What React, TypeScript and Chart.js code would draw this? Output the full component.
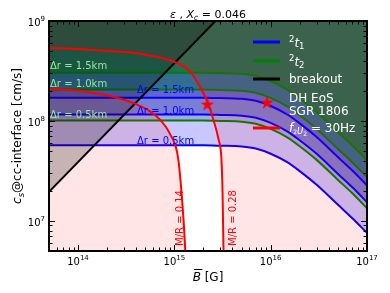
import React, { useEffect, useRef } from "react";
import { Chart, registerables } from "chart.js";
Chart.register(...registerables);

// ---- data ----
const xMin = 5e13;
const xMax = 1e17;
const yMin = 5e6;
const yMax = 1e9;

const gridB = [5e13, 1e14, 2e14, 5e14, 1e15, 2e15, 3e15, 5e15, 7e15, 1e16, 1.5e16, 2e16, 3e16, 5e16, 7e16, 1e17];
// 2t1 (blue)
const t1_05 = [5.7e7, 5.7e7, 5.7e7, 5.7e7, 5.7e7, 5.7e7, 5.65e7, 5.55e7, 5.3e7, 4.7e7, 3.85e7, 3.15e7, 2.3e7, 1.45e7, 1.07e7, 7.6e6];
const t1_10 = [1.16e8, 1.16e8, 1.16e8, 1.16e8, 1.16e8, 1.16e8, 1.15e8, 1.13e8, 1.079e8, 9.57e7, 7.83e7, 6.41e7, 4.69e7, 2.95e7, 2.18e7, 1.54e7];
const t1_15 = [1.71e8, 1.71e8, 1.71e8, 1.71e8, 1.71e8, 1.71e8, 1.695e8, 1.666e8, 1.59e8, 1.41e8, 1.154e8, 9.46e7, 6.91e7, 4.34e7, 3.21e7, 2.27e7];
// 2t2 (green)
const t2_05 = [1.01e8, 1.01e8, 1.01e8, 1.01e8, 1.01e8, 1.01e8, 1.0e8, 9.84e7, 9.39e7, 8.33e7, 6.82e7, 5.59e7, 4.08e7, 2.57e7, 1.9e7, 1.34e7];
const t2_10 = [2.06e8, 2.06e8, 2.06e8, 2.06e8, 2.06e8, 2.06e8, 2.04e8, 2.006e8, 1.916e8, 1.70e8, 1.39e8, 1.139e8, 8.32e7, 5.23e7, 3.87e7, 2.74e7];
const t2_15 = [3.04e8, 3.04e8, 3.04e8, 3.04e8, 3.04e8, 3.04e8, 3.01e8, 2.96e8, 2.83e8, 2.51e8, 2.05e8, 1.68e8, 1.228e8, 7.72e7, 5.72e7, 4.04e7];
// breakout
const breakoutB = [5e13, 2.67e15];
const breakoutC = [1.95e7, 1e9];
// f = 30 Hz, M/R = 0.28
const redHighB = [5e13, 1e14, 2.15e14, 4.4e14, 7.1e14, 1e15, 1.47e15, 1.87e15, 2.25e15, 2.54e15, 2.87e15, 3.08e15, 3.16e15, 3.24e15];
const redHighC = [5.38e8, 5.25e8, 5.0e8, 4.7e8, 4.3e8, 3.9e8, 3.1e8, 2.15e8, 1.48e8, 1.03e8, 6.6e7, 4.2e7, 2.08e7, 5e6];
// f = 30 Hz, M/R = 0.14
const redLowB = [5e13, 1e14, 2.15e14, 3.5e14, 5.5e14, 7.1e14, 9.1e14, 1.1e15, 1.25e15, 1.3e15];
const redLowC = [2.1e8, 2.0e8, 1.78e8, 1.55e8, 1.26e8, 1.03e8, 7.3e7, 4.1e7, 9.8e6, 5e6];
// DH EoS SGR 1806
const starB = [2.2e15];
const starC = [1.45e8];

const xMajor = [1e14, 1e15, 1e16, 1e17];
const xMajorLabels = ["14", "15", "16", "17"];
const yMajor = [1e7, 1e8, 1e9];
const yMajorLabels = ["7", "8", "9"];

const drLabels = ["Δr = 0.5km", "Δr = 1.0km", "Δr = 1.5km"];

// band colours
const colA = "rgb(200,200,255)";
const colB = "rgb(165,170,232)";
const colC = "rgb(123,127,212)";
const colD = "rgb(95,102,205)";
const colE = "rgb(50,110,145)";
const colF = "rgb(36,110,86)";

const FONT = '"DejaVu Sans"';

type Run = { t: string; size: number; italic?: boolean; dy?: number };
const fontOf = (r: Run) => `${r.italic ? "italic " : ""}${r.size}px ${FONT}`;

function drawRuns(ctx: CanvasRenderingContext2D, runs: Run[], x: number, y: number, align: "left" | "center" | "right") {
  let total = 0;
  const ws = runs.map((r) => {
    ctx.font = fontOf(r);
    const w = ctx.measureText(r.t).width;
    total += w;
    return w;
  });
  let cx = align === "left" ? x : align === "center" ? x - total / 2 : x - total;
  const start = cx;
  runs.forEach((r, i) => {
    ctx.font = fontOf(r);
    ctx.fillText(r.t, cx, y + (r.dy || 0));
    cx += ws[i];
  });
  return { start, total };
}

function makeStar(r: number, color: string) {
  const c = document.createElement("canvas");
  const size = Math.ceil(r * 2 + 2);
  c.width = size;
  c.height = size;
  const ctx = c.getContext("2d")!;
  ctx.fillStyle = color;
  ctx.beginPath();
  for (let i = 0; i < 10; i++) {
    const ang = -Math.PI / 2 + (i * Math.PI) / 5;
    const rad = i % 2 === 0 ? r : r * 0.4;
    ctx.lineTo(size / 2 + rad * Math.cos(ang), size / 2 + rad * Math.sin(ang));
  }
  ctx.closePath();
  ctx.fill();
  return c;
}

export default function App() {
  const ref = useRef<HTMLCanvasElement>(null);
  useEffect(() => {
    document.body.style.margin = "0";
    const canvas = ref.current!;
    const star = makeStar(7, "#ff0000");
    const pts = (xs: number[], ys: number[]) => xs.map((x, i) => ({ x, y: ys[i] }));
    const base = { pointRadius: 0, borderWidth: 2, cubicInterpolationMode: "monotone" as const };

    const overlay = {
      id: "overlay",
      afterDraw(chart: any) {
        const ctx: CanvasRenderingContext2D = chart.ctx;
        const xs = chart.scales.x;
        const ys = chart.scales.y;
        const a = chart.chartArea;
        ctx.save();
        ctx.textAlign = "left";
        ctx.textBaseline = "alphabetic";

        // in-plot labels
        ctx.fillStyle = "#90ee90";
        const gY = [117.5, 86.5, 68.5];
        drLabels.forEach((t, i) => drawRuns(ctx, [{ t, size: 10 }], a.left + 1, gY[i], "left"));
        ctx.fillStyle = "#0000ff";
        const bY = [143.5, 113.5, 92.5];
        drLabels.forEach((t, i) => drawRuns(ctx, [{ t, size: 10 }], 137, bY[i], "left"));

        // rotated M/R labels
        ctx.fillStyle = "#ff0000";
        [["M/R = 0.14", 183], ["M/R = 0.28", 235.5]].forEach(([t, bx]) => {
          ctx.save();
          ctx.translate(bx as number, 218);
          ctx.rotate(-Math.PI / 2);
          drawRuns(ctx, [{ t: t as string, size: 10 }], 0, 0, "center");
          ctx.restore();
        });

        // frame
        ctx.strokeStyle = "#000";
        ctx.lineWidth = 2;
        ctx.strokeRect(a.left, a.top, a.right - a.left, a.bottom - a.top);

        // ticks
        ctx.lineWidth = 1;
        const tickX = (v: number, len: number) => {
          const p = Math.round(xs.getPixelForValue(v)) + 0.5;
          ctx.beginPath();
          ctx.moveTo(p, a.bottom);
          ctx.lineTo(p, a.bottom - len);
          ctx.moveTo(p, a.top);
          ctx.lineTo(p, a.top + len);
          ctx.stroke();
        };
        const tickY = (v: number, len: number) => {
          const p = Math.round(ys.getPixelForValue(v)) + 0.5;
          ctx.beginPath();
          ctx.moveTo(a.left, p);
          ctx.lineTo(a.left + len, p);
          ctx.moveTo(a.right, p);
          ctx.lineTo(a.right - len, p);
          ctx.stroke();
        };
        for (let n = 13; n <= 16; n++)
          for (let k = 2; k <= 9; k++) {
            const v = k * Math.pow(10, n);
            if (v > xMin && v < xMax) tickX(v, 3.5);
          }
        for (let n = 6; n <= 8; n++)
          for (let k = 2; k <= 9; k++) {
            const v = k * Math.pow(10, n);
            if (v > yMin && v < yMax) tickY(v, 3.5);
          }
        xMajor.forEach((v) => tickX(v, 6));
        yMajor.forEach((v) => tickY(v, 6));

        // tick labels
        ctx.fillStyle = "#000";
        xMajor.forEach((v, i) => {
          const p = xs.getPixelForValue(v);
          drawRuns(ctx, [{ t: "10", size: 10 }, { t: xMajorLabels[i], size: 7, dy: -5 }], p, 264.5, "center");
        });
        yMajor.forEach((v, i) => {
          const p = ys.getPixelForValue(v);
          drawRuns(ctx, [{ t: "10", size: 10 }, { t: yMajorLabels[i], size: 7, dy: -5 }], 45, p + 5, "right");
        });

        // x axis label
        const cxl = (a.left + a.right) / 2;
        const r = drawRuns(ctx, [{ t: "B", size: 12, italic: true }, { t: " [G]", size: 12 }], cxl, 281, "center");
        ctx.font = `italic 12px ${FONT}`;
        const bw = ctx.measureText("B").width;
        ctx.beginPath();
        ctx.lineWidth = 1;
        ctx.moveTo(r.start + 1.5, 269.5);
        ctx.lineTo(r.start + bw + 1.5, 269.5);
        ctx.stroke();

        // y axis label
        ctx.save();
        ctx.translate(21, (a.top + a.bottom) / 2);
        ctx.rotate(-Math.PI / 2);
        drawRuns(ctx, [
          { t: "c", size: 12, italic: true },
          { t: "s", size: 8.5, italic: true, dy: 2.5 },
          { t: "@cc-interface [cm/s]", size: 12 },
        ], 0, 0, "center");
        ctx.restore();

        // title
        drawRuns(ctx, [
          { t: "ε", size: 11, italic: true },
          { t: " , ", size: 11 },
          { t: "X", size: 11, italic: true },
          { t: "c", size: 7.5, italic: true, dy: 2 },
          { t: " = 0.046", size: 11 },
        ], cxl, 17.5, "center");

        // legend
        const lx0 = 253, lx1 = 280, tx = 289;
        const legLine = (y: number, col: string) => {
          ctx.strokeStyle = col;
          ctx.lineWidth = 3;
          ctx.beginPath();
          ctx.moveTo(lx0, y);
          ctx.lineTo(lx1, y);
          ctx.stroke();
        };
        legLine(42, "#0000ff");
        legLine(61, "#008000");
        legLine(79, "#000000");
        legLine(128, "#ff0000");
        ctx.drawImage(star, 267 - star.width / 2, 103 - star.height / 2);
        ctx.fillStyle = "#ffffff";
        drawRuns(ctx, [
          { t: "2", size: 8.5, dy: -5 },
          { t: "t", size: 12, italic: true },
          { t: "1", size: 8.5, dy: 2.5 },
        ], tx, 46.5, "left");
        drawRuns(ctx, [
          { t: "2", size: 8.5, dy: -5 },
          { t: "t", size: 12, italic: true },
          { t: "2", size: 8.5, dy: 2.5 },
        ], tx, 65.5, "left");
        drawRuns(ctx, [{ t: "breakout", size: 12 }], tx, 83.3, "left");
        drawRuns(ctx, [{ t: "DH EoS", size: 12 }], tx, 101.7, "left");
        drawRuns(ctx, [{ t: "SGR 1806", size: 12 }], tx, 115, "left");
        drawRuns(ctx, [
          { t: "f", size: 12, italic: true },
          { t: "2", size: 6, dy: 2 },
          { t: "U", size: 8.5, italic: true, dy: 2.5 },
          { t: "2", size: 6, dy: 4 },
          { t: " = 30Hz", size: 12 },
        ], tx, 131.7, "left");

        ctx.restore();
      },
    };

    const chart = new Chart(canvas, {
      type: "line",
      data: {
        datasets: [
          { ...base, data: pts(starB, starC), showLine: false, pointStyle: star as any, pointRadius: 7, fill: false, borderColor: "#ff0000", backgroundColor: "#ff0000" },
          { ...base, data: pts(redHighB, redHighC), borderColor: "#ff0000", fill: false },
          { ...base, data: pts(redLowB, redLowC), borderColor: "#ff0000", fill: false },
          { ...base, data: pts(breakoutB, breakoutC), borderColor: "#000000", fill: "end", backgroundColor: "rgba(0,0,0,0.22)", cubicInterpolationMode: "default", tension: 0 },
          { ...base, data: pts([...redHighB, xMax], [...redHighC, yMin]), borderWidth: 0, borderColor: "rgba(0,0,0,0)", fill: "end", backgroundColor: "rgba(255,0,0,0.1)" },
          { ...base, data: pts(redLowB, redLowC), borderWidth: 0, borderColor: "rgba(0,0,0,0)", fill: "start", backgroundColor: "rgba(255,0,0,0.1)" },
          { ...base, data: pts(gridB, t2_15), borderColor: "#008000", fill: "end", backgroundColor: colF },
          { ...base, data: pts(gridB, t2_10), borderColor: "#008000", fill: 6, backgroundColor: colE },
          { ...base, data: pts(gridB, t1_15), borderColor: "#0000ff", fill: 7, backgroundColor: colD },
          { ...base, data: pts(gridB, t1_10), borderColor: "#0000ff", fill: 8, backgroundColor: colC },
          { ...base, data: pts(gridB, t2_05), borderColor: "#008000", fill: 9, backgroundColor: colB },
          { ...base, data: pts(gridB, t1_05), borderColor: "#0000ff", fill: 10, backgroundColor: colA },
        ] as any,
      },
      options: {
        responsive: false,
        animation: false,
        events: [],
        layout: { padding: { left: 49, top: 21, right: 23, bottom: 42 } },
        scales: {
          x: { type: "logarithmic", min: xMin, max: xMax, display: false },
          y: { type: "logarithmic", min: yMin, max: yMax, display: false },
        },
        plugins: { legend: { display: false }, tooltip: { enabled: false } },
      } as any,
      plugins: [overlay],
    });
    return () => chart.destroy();
  }, []);
  return (
    <div style={{ width: 390, height: 293 }}>
      <canvas ref={ref} width={390} height={293} style={{ display: "block" }} />
    </div>
  );
}
